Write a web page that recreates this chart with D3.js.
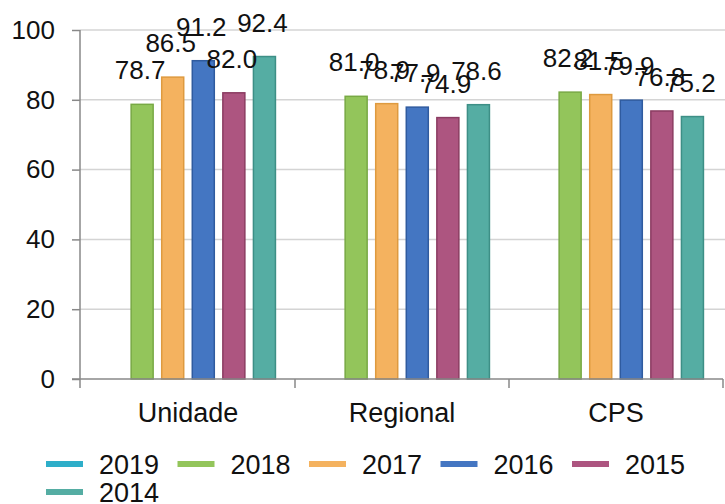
<!DOCTYPE html>
<html>
<head>
<meta charset="utf-8">
<script src="https://cdn.jsdelivr.net/npm/d3@7"></script>
<style>
  body { margin: 0; background: #fff; }
  svg text { font-family: "Liberation Sans", Arial, sans-serif; fill: #111; }
</style>
</head>
<body>
<div class="chart"></div>
<script>
// categories and series
var categories = ["Unidade", "Regional", "CPS"];
var seriesNames = ["2019", "2018", "2017", "2016", "2015", "2014"];
var values2019 = [null, null, null];
var values2018 = [78.7, 81.0, 82.2];
var values2017 = [86.5, 78.9, 81.5];
var values2016 = [91.2, 77.9, 79.9];
var values2015 = [82.0, 74.9, 76.8];
var values2014 = [92.4, 78.6, 75.2];
var yTicks = [0, 20, 40, 60, 80, 100];

var fills   = ["#2eaec9", "#93c55b", "#f4b25f", "#4476c2", "#ad5580", "#55ada3"];
var borders = ["#2497b0", "#78a944", "#de9a3f", "#2f5b9f", "#8b3c62", "#3d8f86"];

var allValues = [values2019, values2018, values2017, values2016, values2015, values2014];

var svgWidth = 725;
var svgHeight = 504;

var svg = d3.select(".chart")
    .append("svg")
    .attr("width", svgWidth)
    .attr("height", svgHeight);

// scales
var x0 = d3.scaleBand()
    .domain(categories)
    .range([81, 723])
    .padding(0);

var x1 = d3.scaleBand()
    .domain(seriesNames)
    .range([11, x0.bandwidth() - 11])
    .padding(0.28);

var y = d3.scaleLinear()
    .domain([0, 100])
    .range([379, 30]);

// gridlines
svg.append("g")
    .selectAll("line")
    .data(yTicks.filter(d => d > 0))
    .enter()
    .append("line")
    .attr("x1", 80)
    .attr("x2", 725)
    .attr("y1", d => y(d))
    .attr("y2", d => y(d))
    .attr("stroke", "#d4d4d4")
    .attr("stroke-width", 1.5);

// y axis
var leftAxis = d3.axisLeft(y).tickValues(yTicks).tickSize(8).tickPadding(17);
var yAxisG = svg.append("g")
    .attr("transform", "translate(80,0)")
    .call(leftAxis);
yAxisG.select(".domain").remove();
yAxisG.selectAll(".tick line").attr("stroke", "#888").attr("stroke-width", 1.5);
yAxisG.selectAll(".tick text").style("font-size", "26px").attr("fill", "#111");
svg.append("line")
    .attr("x1", 80).attr("x2", 80)
    .attr("y1", y(100)).attr("y2", 388)
    .attr("stroke", "#888").attr("stroke-width", 1.5);

// bars
var groups = svg.append("g")
    .selectAll("g")
    .data(categories)
    .enter()
    .append("g")
    .attr("transform", d => `translate(${x0(d)},0)`);

var barData = function(cat, ci) {
    return seriesNames.map((s, si) => ({ series: s, idx: si, value: allValues[si][ci] }))
        .filter(d => d.value != null);
};

groups.each(function(cat, ci) {
    var g = d3.select(this);
    var data = barData(cat, ci);

    g.selectAll("rect")
        .data(data)
        .enter()
        .append("rect")
        .attr("x", d => x1(d.series))
        .attr("y", d => y(d.value))
        .attr("width", x1.bandwidth())
        .attr("height", d => y(0) - y(d.value))
        .attr("fill", d => fills[d.idx])
        .attr("stroke", d => borders[d.idx])
        .attr("stroke-width", 1.5);

    g.selectAll("text.val")
        .data(data)
        .enter()
        .append("text")
        .attr("class", "val")
        .attr("x", d => x1(d.series) + x1.bandwidth() / 2 - 2)
        .attr("y", d => y(d.value) - 25)
        .attr("text-anchor", "middle")
        .style("font-size", "26px")
        .text(d => d.value.toFixed(1));
});

// x axis
var bottomAxis = d3.axisBottom(x0).tickSize(0).tickPadding(24);
var xAxisG = svg.append("g")
    .attr("transform", `translate(0,${y(0)})`)
    .call(bottomAxis);
xAxisG.select(".domain").remove();
xAxisG.selectAll(".tick text").style("font-size", "27px").attr("fill", "#111");
svg.append("line")
    .attr("x1", 72).attr("x2", 723)
    .attr("y1", y(0)).attr("y2", y(0))
    .attr("stroke", "#888").attr("stroke-width", 1.5);
svg.append("g")
    .selectAll("line")
    .data(categories)
    .enter()
    .append("line")
    .attr("x1", d => x0(d) + x0.bandwidth())
    .attr("x2", d => x0(d) + x0.bandwidth())
    .attr("y1", y(0))
    .attr("y2", y(0) + 9)
    .attr("stroke", "#888")
    .attr("stroke-width", 1.5);

// legend
var legend = svg.append("g");
var legendItems = legend.selectAll("g")
    .data(seriesNames)
    .enter()
    .append("g")
    .attr("transform", (d, i) => `translate(${46 + (i % 5) * 131.5},${i < 5 ? 464 : 492})`);

legendItems.append("line")
    .attr("x1", 0).attr("x2", 37)
    .attr("y1", 0).attr("y2", 0)
    .attr("stroke", (d, i) => fills[i])
    .attr("stroke-width", 6);

legendItems.append("text")
    .attr("x", 53)
    .attr("y", 10)
    .style("font-size", "27px")
    .text(d => d);
</script>
</body>
</html>
